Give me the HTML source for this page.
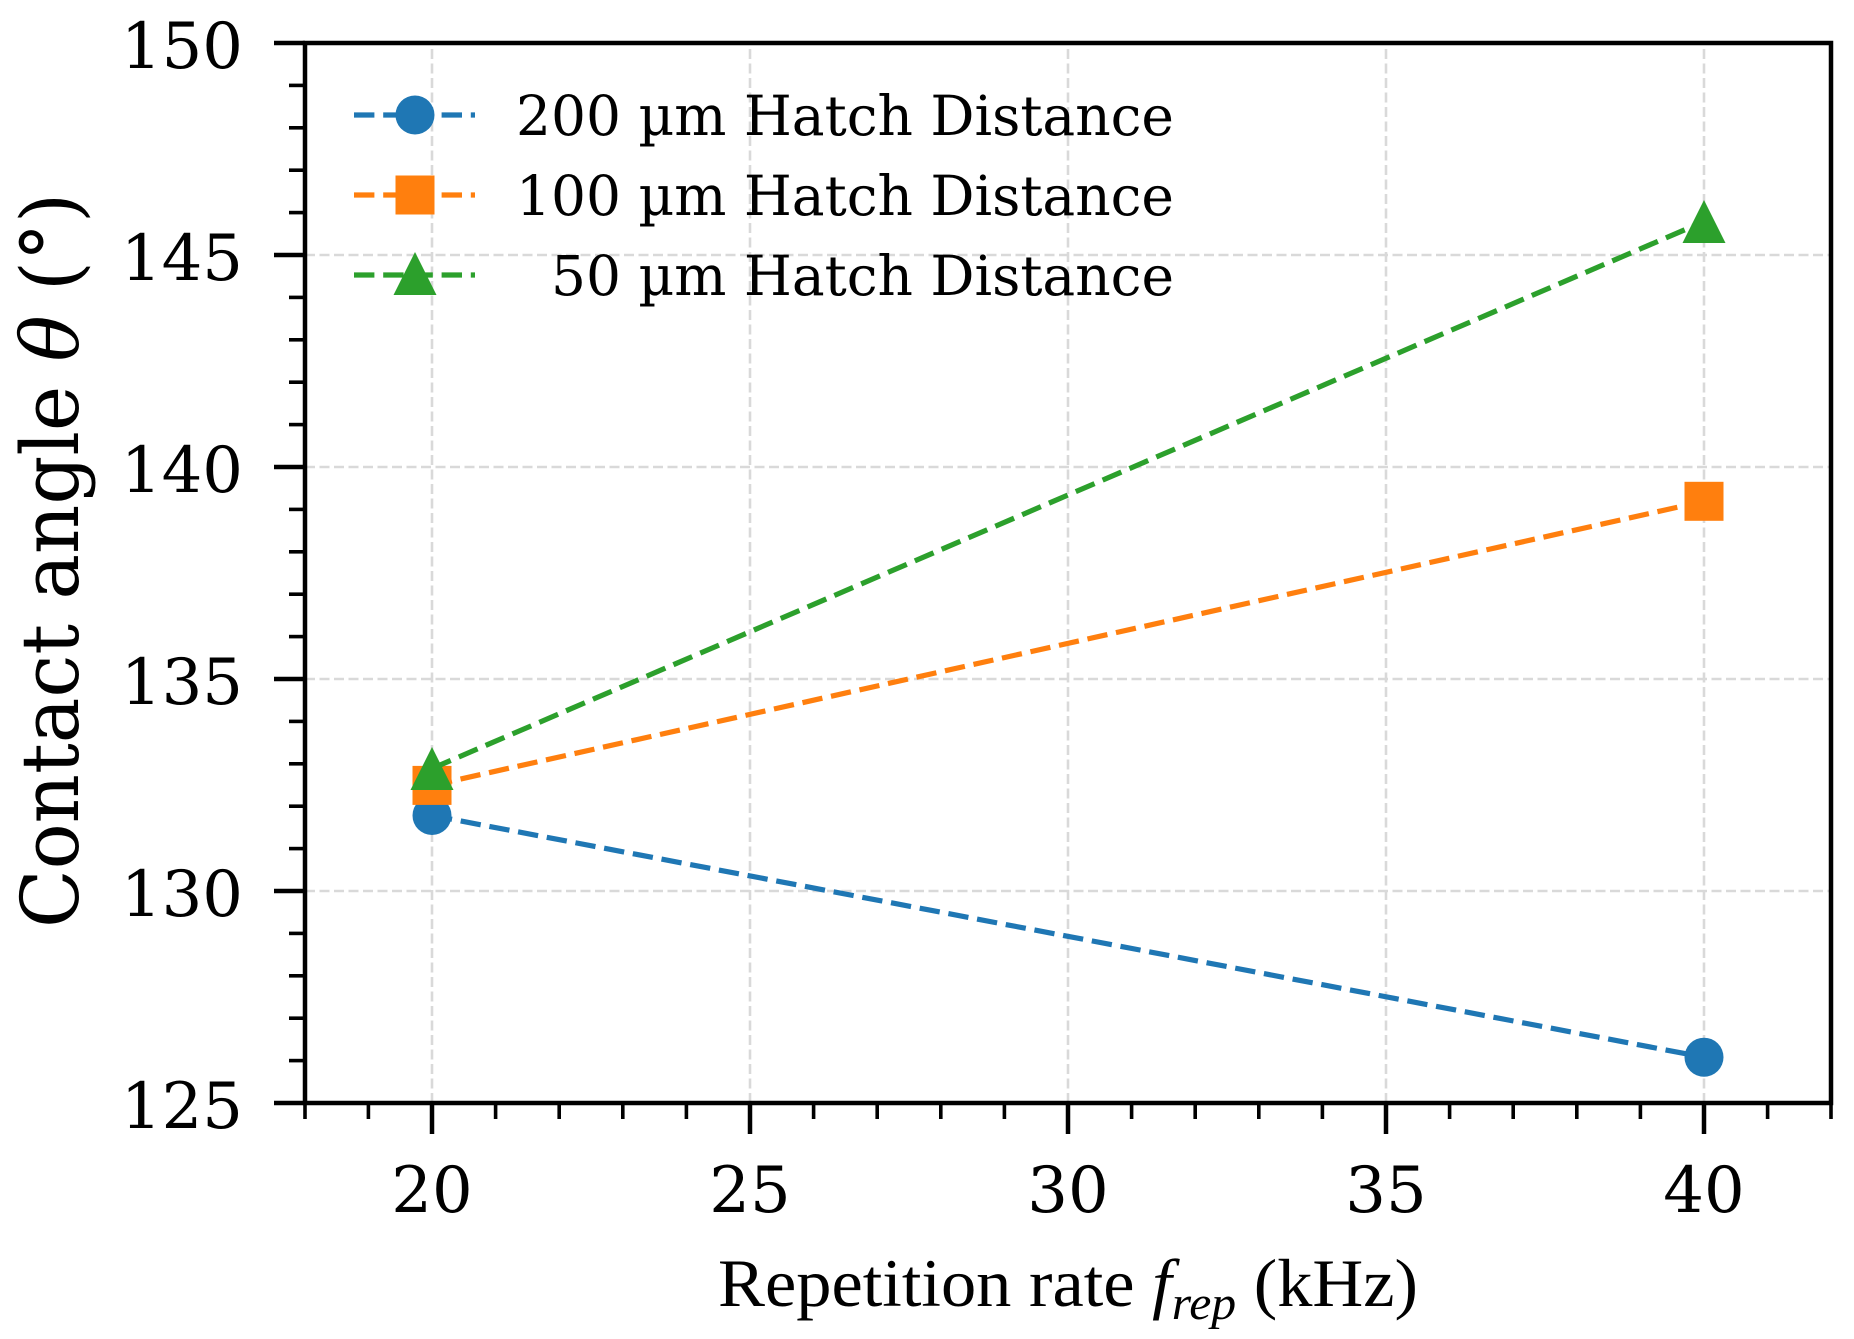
<!DOCTYPE html>
<html>
<head>
<meta charset="utf-8">
<style>
html,body{margin:0;padding:0;background:#fff;}
svg{display:block;}
</style>
</head>
<body>
<svg width="1854" height="1339" viewBox="0 0 1854 1339" xmlns="http://www.w3.org/2000/svg">
<rect width="1854" height="1339" fill="#fff"/>
<!-- grid -->
<g stroke="#d9d9d9" stroke-width="2.6" stroke-dasharray="10 4.5" fill="none">
<line x1="432" y1="1103" x2="432" y2="43"/>
<line x1="750" y1="1103" x2="750" y2="43"/>
<line x1="1068" y1="1103" x2="1068" y2="43"/>
<line x1="1386" y1="1103" x2="1386" y2="43"/>
<line x1="1704" y1="1103" x2="1704" y2="43"/>
<line x1="305" y1="891" x2="1831" y2="891"/>
<line x1="305" y1="679" x2="1831" y2="679"/>
<line x1="305" y1="467" x2="1831" y2="467"/>
<line x1="305" y1="255" x2="1831" y2="255"/>
</g>
<!-- data series -->
<g stroke-width="5.2" stroke-dasharray="20.4 8.8" fill="none">
<line x1="432" y1="815.5" x2="1704" y2="1057.2" stroke="#1f77b4"/>
</g>
<circle cx="432" cy="815.5" r="19.5" fill="#1f77b4"/>
<circle cx="1704" cy="1057.2" r="19.5" fill="#1f77b4"/>
<g stroke-width="5.2" stroke-dasharray="20.4 8.8" fill="none">
<line x1="432" y1="785.4" x2="1704" y2="501.3" stroke="#ff7f0e"/>
</g>
<rect x="412.5" y="765.9" width="39" height="39" fill="#ff7f0e"/>
<rect x="1684.5" y="481.8" width="39" height="39" fill="#ff7f0e"/>
<g stroke-width="5.2" stroke-dasharray="20.4 8.8" fill="none">
<line x1="432" y1="768.5" x2="1704" y2="221.5" stroke="#2ca02c"/>
</g>
<polygon points="432,747 453.5,790 410.5,790" fill="#2ca02c"/>
<polygon points="1704,200 1725.5,243 1682.5,243" fill="#2ca02c"/>

<!-- ticks -->
<g stroke="#000" stroke-width="4.5">
<line x1="274" y1="43" x2="305" y2="43"/>
<line x1="274" y1="255" x2="305" y2="255"/>
<line x1="274" y1="467" x2="305" y2="467"/>
<line x1="274" y1="679" x2="305" y2="679"/>
<line x1="274" y1="891" x2="305" y2="891"/>
<line x1="274" y1="1103" x2="305" y2="1103"/>
<line x1="432" y1="1103" x2="432" y2="1134"/>
<line x1="750" y1="1103" x2="750" y2="1134"/>
<line x1="1068" y1="1103" x2="1068" y2="1134"/>
<line x1="1386" y1="1103" x2="1386" y2="1134"/>
<line x1="1704" y1="1103" x2="1704" y2="1134"/>
</g>
<g stroke="#000" stroke-width="3.6">
<!-- y minor -->
<line x1="289" y1="85.4" x2="305" y2="85.4"/>
<line x1="289" y1="127.8" x2="305" y2="127.8"/>
<line x1="289" y1="170.2" x2="305" y2="170.2"/>
<line x1="289" y1="212.6" x2="305" y2="212.6"/>
<line x1="289" y1="297.4" x2="305" y2="297.4"/>
<line x1="289" y1="339.8" x2="305" y2="339.8"/>
<line x1="289" y1="382.2" x2="305" y2="382.2"/>
<line x1="289" y1="424.6" x2="305" y2="424.6"/>
<line x1="289" y1="509.4" x2="305" y2="509.4"/>
<line x1="289" y1="551.8" x2="305" y2="551.8"/>
<line x1="289" y1="594.2" x2="305" y2="594.2"/>
<line x1="289" y1="636.6" x2="305" y2="636.6"/>
<line x1="289" y1="721.4" x2="305" y2="721.4"/>
<line x1="289" y1="763.8" x2="305" y2="763.8"/>
<line x1="289" y1="806.2" x2="305" y2="806.2"/>
<line x1="289" y1="848.6" x2="305" y2="848.6"/>
<line x1="289" y1="933.4" x2="305" y2="933.4"/>
<line x1="289" y1="975.8" x2="305" y2="975.8"/>
<line x1="289" y1="1018.2" x2="305" y2="1018.2"/>
<line x1="289" y1="1060.6" x2="305" y2="1060.6"/>
<!-- x minor -->
<line x1="305" y1="1103" x2="305" y2="1119"/>
<line x1="368.4" y1="1103" x2="368.4" y2="1119"/>
<line x1="495.6" y1="1103" x2="495.6" y2="1119"/>
<line x1="559.2" y1="1103" x2="559.2" y2="1119"/>
<line x1="622.8" y1="1103" x2="622.8" y2="1119"/>
<line x1="686.4" y1="1103" x2="686.4" y2="1119"/>
<line x1="813.6" y1="1103" x2="813.6" y2="1119"/>
<line x1="877.2" y1="1103" x2="877.2" y2="1119"/>
<line x1="940.8" y1="1103" x2="940.8" y2="1119"/>
<line x1="1004.4" y1="1103" x2="1004.4" y2="1119"/>
<line x1="1131.6" y1="1103" x2="1131.6" y2="1119"/>
<line x1="1195.2" y1="1103" x2="1195.2" y2="1119"/>
<line x1="1258.8" y1="1103" x2="1258.8" y2="1119"/>
<line x1="1322.4" y1="1103" x2="1322.4" y2="1119"/>
<line x1="1449.6" y1="1103" x2="1449.6" y2="1119"/>
<line x1="1513.2" y1="1103" x2="1513.2" y2="1119"/>
<line x1="1576.8" y1="1103" x2="1576.8" y2="1119"/>
<line x1="1640.4" y1="1103" x2="1640.4" y2="1119"/>
<line x1="1767.6" y1="1103" x2="1767.6" y2="1119"/>
<line x1="1831" y1="1103" x2="1831" y2="1119"/>
</g>
<!-- spines -->
<rect x="305" y="43" width="1526" height="1060" fill="none" stroke="#000" stroke-width="4.5"/>

<!-- tick labels -->
<g font-family="'DejaVu Serif', 'Liberation Serif', serif" font-size="64" fill="#000" text-anchor="end">
<text x="243" y="68">150</text>
<text x="243" y="280">145</text>
<text x="243" y="492">140</text>
<text x="243" y="704">135</text>
<text x="243" y="916">130</text>
<text x="243" y="1128">125</text>
</g>
<g font-family="'DejaVu Serif', 'Liberation Serif', serif" font-size="64" fill="#000" text-anchor="middle">
<text x="432" y="1212">20</text>
<text x="750" y="1212">25</text>
<text x="1068" y="1212">30</text>
<text x="1386" y="1212">35</text>
<text x="1704" y="1212">40</text>
</g>

<!-- y label -->
<text transform="translate(78,560.5) rotate(-90)" text-anchor="middle" font-family="'DejaVu Serif', 'Liberation Serif', serif" font-size="80" fill="#000" textLength="735" lengthAdjust="spacingAndGlyphs">Contact angle <tspan font-style="italic">θ</tspan> (°)</text>

<!-- x label -->
<text x="718" y="1306" font-family="'Liberation Serif', 'Times New Roman', serif" font-size="68" fill="#000" textLength="700" lengthAdjust="spacingAndGlyphs">Repetition rate <tspan font-style="italic">f</tspan><tspan font-style="italic" font-size="48" dy="13">rep</tspan><tspan dy="-13"> (kHz)</tspan></text>

<!-- legend -->
<g stroke-width="5.2" stroke-dasharray="20.4 8.8" fill="none">
<line x1="354" y1="115" x2="475" y2="115" stroke="#1f77b4"/>
<line x1="354" y1="195" x2="475" y2="195" stroke="#ff7f0e"/>
<line x1="354" y1="275" x2="475" y2="275" stroke="#2ca02c"/>
</g>
<circle cx="415" cy="115" r="19.5" fill="#1f77b4"/>
<rect x="395.5" y="175.5" width="39" height="39" fill="#ff7f0e"/>
<polygon points="415,252 436.5,295 393.5,295" fill="#2ca02c"/>
<g font-family="'DejaVu Serif', 'Liberation Serif', serif" font-size="55" fill="#000" text-anchor="end">
<text x="1174" y="135">200 µm Hatch Distance</text>
<text x="1174" y="215">100 µm Hatch Distance</text>
<text x="1174" y="295">50 µm Hatch Distance</text>
</g>
</svg>
</body>
</html>
